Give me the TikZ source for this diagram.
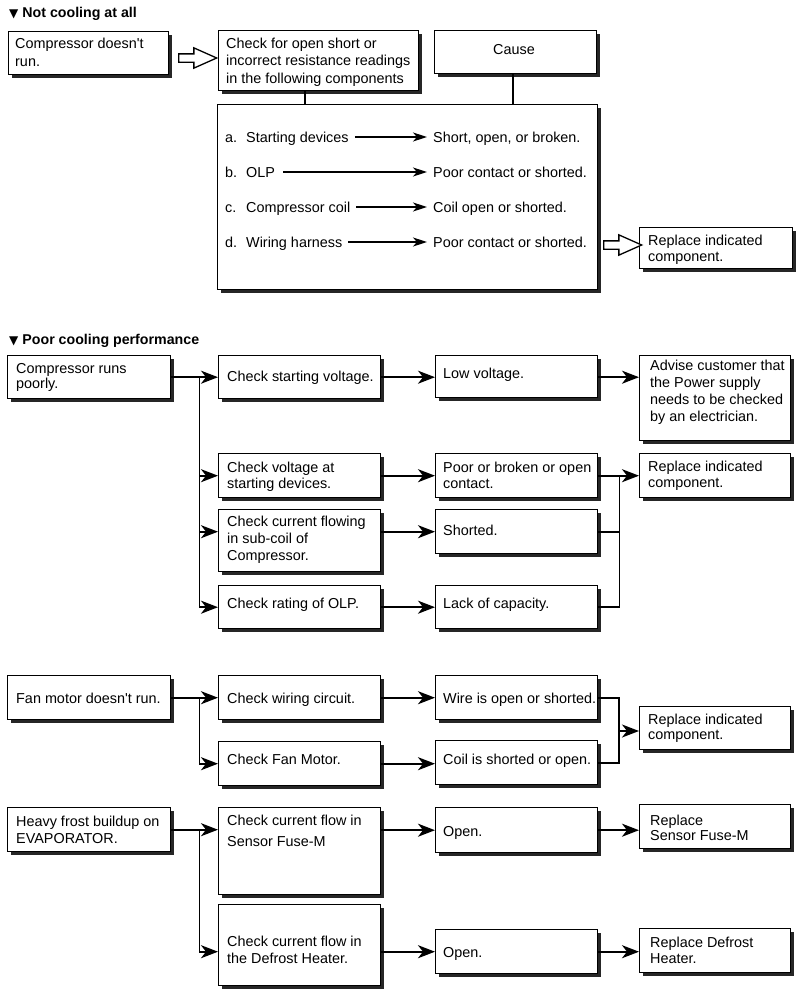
\documentclass[tikz,border=0pt]{standalone}
\usepackage{fontspec}
\setmainfont{Liberation Sans}
\newfontfamily\djv{DejaVu Sans}
\usetikzlibrary{shadows,shapes.arrows,arrows.meta,calc}
\newcommand\sst{\rule{0pt}{12pt}}
\newcommand\fs[1]{\fontsize{14.4}{#1}\selectfont}
\newcommand\apo{\textquotesingle}
\tikzset{
  box/.style={draw=black, line width=1.4pt, fill=white, inner sep=0pt, anchor=north west,
    drop shadow={shadow xshift=3pt, shadow yshift=-3pt, fill=black!85, opacity=1}},
  txt/.style={inner sep=0pt, anchor=north west, align=left, font=\fs{17}},
  one/.style={inner sep=0pt, anchor=base west, font=\fs{17}},
  lbl/.style={anchor=west, inner ysep=0pt, inner xsep=6pt, text height=10.3pt, text depth=0pt, font=\fs{17}},
  rt/.style={anchor=west, inner ysep=0pt, inner xsep=6pt, text height=10.3pt, text depth=0pt, font=\fs{17}},
  hdr/.style={inner sep=0pt, anchor=base west, font=\fontsize{14.2}{17}\selectfont\bfseries},
  conn/.style={line width=1.8pt},
  arr/.style={line width=1.8pt, -{Stealth[length=17pt,width=13pt,inset=5pt]}},
  sarr/.style={line width=1.6pt, -{Stealth[length=14pt,width=9pt,inset=4pt]}},
  harrow/.style={single arrow, draw=black, line width=1.3pt, fill=white, minimum height=38pt,
    inner sep=3.5pt, single arrow head extend=6pt, single arrow tip angle=48},
}
\newcommand\bx[5]{\node[box, minimum width={(#4)-(#2)}, minimum height={(#5)-(#3)}] (#1) at (#2,#3) {};}
\begin{document}
\begin{tikzpicture}[x=1pt,y=-1pt]
\fill[white] (0,0) rectangle (800,993);
\useasboundingbox (0,0) rectangle (800,993);

% ---------- Not cooling at all ----------
\node[hdr] (H1) at (9,17) {{\djv\fontsize{12}{14}\selectfont ▼}\hspace{4pt}Not cooling at all};

\bx{A1}{8}{31}{168}{74}
\node[txt, font=\fs{17.5}] (A1t) at (15,36.5) {\sst Compressor doesn\apo t\\run.};
\bx{A2}{218}{30}{418}{90}
\node[txt, font=\fs{17.5}] (A2t) at (226,36) {\sst Check for open short or\\incorrect resistance readings\\in the following components};
\bx{Cause}{434}{30}{596}{73}
\node[one, anchor=base] (Causet) at (514,54) {Cause};
\bx{Big}{217}{104}{597}{289}

\draw[conn] ([xshift=-14pt]A2.south) -- ([xshift=-14pt]A2.south |- Big.north);
\draw[conn] ([xshift=-3pt]Cause.south) -- ([xshift=-3pt]Cause.south |- Big.north);

\node[lbl] (la) at (219,137) {\makebox[21pt][l]{a.}Starting devices};
\node[rt]  (ra) at (427,137) {Short, open, or broken.};
\node[lbl] (lb) at (219,172) {\makebox[21pt][l]{b.}OLP};
\node[rt]  (rb) at (427,172) {Poor contact or shorted.};
\node[lbl] (lc) at (219,207) {\makebox[21pt][l]{c.}Compressor coil};
\node[rt]  (rc) at (427,207) {Coil open or shorted.};
\node[lbl] (ld) at (219,242) {\makebox[21pt][l]{d.}Wiring harness};
\node[rt]  (rd) at (427,242) {Poor contact or shorted.};
\draw[sarr] (la.east) -- (ra.west);
\draw[sarr] ([xshift=2pt]lb.east) -- (rb.west);
\draw[sarr] (lc.east) -- (rc.west);
\draw[sarr] (ld.east) -- (rd.west);

\node[harrow] (h1) at (193,58) {};
\bx{R1}{639}{227}{792}{268}
\node[txt, font=\fs{16.5}] (R1t) at (648,233) {\sst Replace indicated\\component.};
\node[harrow] (h2) at (618,245) {};

% ---------- Poor cooling performance ----------
\node[hdr] (H2) at (9,344) {{\djv\fontsize{12}{14}\selectfont ▼}\hspace{4pt}Poor cooling performance};

\bx{B1}{7}{355}{170}{398}
\node[txt, font=\fs{15.5}] (B1t) at (16,361) {\sst Compressor runs\\poorly.};
\bx{B2}{218}{355}{380}{398}
\node[one] (B2t) at (227,381) {Check starting voltage.};
\bx{B3}{435}{355}{597}{397}
\node[one] (B3t) at (443,378) {Low voltage.};
\bx{B4}{639}{355}{790}{440}
\node[txt] (B4t) at (650,358) {\sst Advise customer that\\the Power supply\\needs to be checked\\by an electrician.};
\bx{B5}{218}{453}{380}{497}
\node[txt, font=\fs{16.5}] (B5t) at (227,460) {\sst Check voltage at\\starting devices.};
\bx{B6}{435}{453}{597}{497}
\node[txt, font=\fs{16.5}] (B6t) at (443,460) {\sst Poor or broken or open\\contact.};
\bx{B7}{218}{509}{380}{571}
\node[txt] (B7t) at (227,514) {\sst Check current flowing\\in sub-coil of\\Compressor.};
\bx{B8}{435}{509}{597}{553}
\node[one] (B8t) at (443,535) {Shorted.};
\bx{B9}{218}{585}{380}{628}
\node[one] (B9t) at (227,608) {Check rating of OLP.};
\bx{B10}{435}{585}{597}{628}
\node[one] (B10t) at (443,608) {Lack of capacity.};
\bx{B11}{639}{453}{790}{497}
\node[txt, font=\fs{16.5}] (B11t) at (648,459) {\sst Replace indicated\\component.};

\coordinate (jB) at ([xshift=28pt]B1.east);
\draw[arr] (B1.east) -- (B2.west);
\draw[conn] (jB) -- (jB |- B9.west);
\draw[arr] (jB |- B5.west) -- (B5.west);
\draw[arr] (jB |- B8.west) -- (B8.west -| B7.west);
\draw[arr] (jB |- B9.west) -- (B9.west);
\draw[arr] (B2.east) -- (B2.east -| B3.west);
\draw[arr] (B2.east -| B3.east) -- (B2.east -| B4.west);
\draw[arr] (B5.east) -- (B6.west);
\draw[arr] (B8.west -| B7.east) -- (B8.west);
\draw[arr] (B9.east) -- (B10.west);
\coordinate (mB) at ([xshift=21pt]B6.east);
\draw[arr] (B6.east) -- (B11.west);
\draw[conn] (B8.east) -- (B8.east -| mB);
\draw[conn] (B10.east) -| (mB);

% ---------- Fan motor ----------
\bx{C1}{7}{675}{170}{719}
\node[one] (C1t) at (16,703) {Fan motor doesn\apo t run.};
\bx{C2}{218}{675}{380}{719}
\node[one] (C2t) at (227,703) {Check wiring circuit.};
\bx{C3}{218}{741}{380}{785}
\node[one] (C3t) at (227,764) {Check Fan Motor.};
\bx{C4}{435}{675}{597}{719}
\node[one] (C4t) at (443,703) {Wire is open or shorted.};
\bx{C5}{435}{740}{597}{784}
\node[one] (C5t) at (443,764) {Coil is shorted or open.};
\bx{C6}{639}{706}{790}{749}
\node[txt, font=\fs{15.5}] (C6t) at (648,712) {\sst Replace indicated\\component.};

\coordinate (jC) at ([xshift=28pt]C1.east);
\draw[arr] (C1.east) -- (C2.west);
\draw[arr] (jC) |- (C3.west);
\draw[arr] (C2.east) -- (C2.east -| C4.west);
\draw[arr] (C3.east) -- (C3.east -| C5.west);
\coordinate (mC) at (619,731);
\draw[conn] (C4.east) -| (mC) |- (C5.east);
\draw[arr] (mC) -- (mC -| C6.west);

% ---------- Heavy frost ----------
\bx{D1}{7}{807}{170}{851}
\node[txt] (D1t) at (16,814) {\sst Heavy frost buildup on\\EVAPORATOR.};
\bx{D2}{218}{807}{380}{894}
\node[txt, font=\fs{21}] (D2t) at (227,813) {\sst Check current flow in\\Sensor Fuse-M};
\bx{D3}{218}{904}{380}{985}
\node[txt] (D3t) at (227,934) {\sst Check current flow in\\the Defrost Heater.};
\bx{D4}{435}{807}{597}{852}
\node[one] (D4t) at (443,836) {Open.};
\bx{D5}{639}{804}{790}{848}
\node[txt, font=\fs{15}] (D5t) at (650,813) {\sst Replace\\Sensor Fuse-M};
\bx{D6}{435}{929}{597}{973}
\node[one] (D6t) at (443,957) {Open.};
\bx{D7}{639}{928}{790}{972}
\node[txt, font=\fs{16}] (D7t) at (650,935) {\sst Replace Defrost\\Heater.};

\coordinate (jD) at ([xshift=28pt]D1.east);
\draw[arr] (D1.east) -- (D1.east -| D2.west);
\draw[arr] (jD) |- (D6.west -| D3.west);
\draw[arr] (D4.west -| D2.east) -- (D4.west);
\draw[arr] (D4.east) -- (D4.east -| D5.west);
\draw[arr] (D6.west -| D3.east) -- (D6.west);
\draw[arr] (D6.east) -- (D6.east -| D7.west);
\end{tikzpicture}
\end{document}
